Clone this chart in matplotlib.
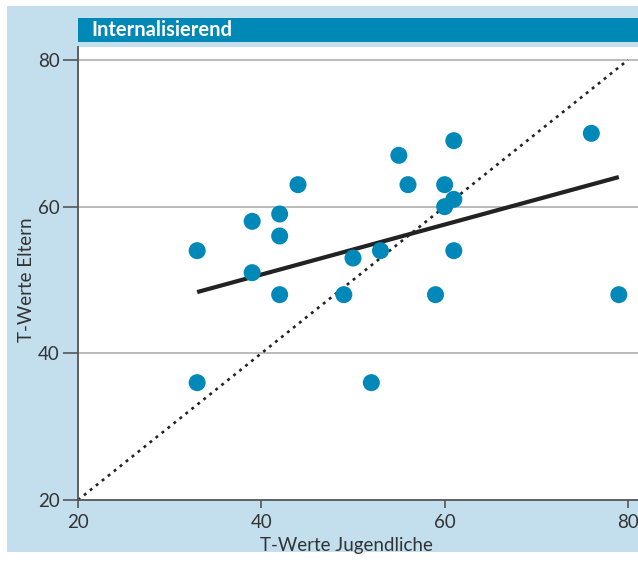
import numpy as np
import matplotlib
matplotlib.use("Agg")
import matplotlib.pyplot as plt
from matplotlib.patches import Rectangle

plt.rcParams['font.family'] = ['Lato', 'DejaVu Sans']

# Data (T-Werte Jugendliche vs. T-Werte Eltern)
jugendliche = [33, 33, 39, 39, 42, 42, 42, 44, 49, 50, 53, 52, 55, 56, 59, 60, 60, 61, 61, 61, 76, 79]
eltern =      [54, 36, 58, 51, 59, 56, 48, 63, 48, 53, 54, 36, 67, 63, 48, 63, 60, 61, 69, 54, 70, 48]
# regression line as drawn in the reference (intercept, slope)
fit_intercept = 37.1
fit_slope = 0.341
title = "Internalisierend"
xlabel = "T-Werte Jugendliche"
ylabel = "T-Werte Eltern"
ticks = [20, 40, 60, 80]

BG = "#c3dfee"
HEAD = "#0088b6"
DOT = "#0088b8"
TXT = "#333333"

W, H = 638, 562
fig = plt.figure(figsize=(W / 100, H / 100), dpi=100)
fig.patch.set_facecolor("white")

# light-blue panel
fig.add_artist(Rectangle((7 / W, 1 - 552 / H), 631 / W, 546 / H,
                         transform=fig.transFigure, facecolor=BG, edgecolor="none", zorder=0))
# header bar
fig.add_artist(Rectangle((78 / W, 1 - 41.5 / H), 560 / W, 23.5 / H,
                         transform=fig.transFigure, facecolor=HEAD, edgecolor="none", zorder=1))
fig.text(91 / W, 1 - 29.5 / H, title, color="white", fontsize=14.5, fontweight="bold",
         ha="left", va="center", zorder=2)

ax = fig.add_axes([78 / W, 1 - 500 / H, 560 / W, 453 / H])
ax.set_facecolor("white")
ax.set_xlim(20, 20 + 560 / (550 / 60))
ax.set_ylim(20, 20 + 453 / (440 / 60))

for s in ["top", "right"]:
    ax.spines[s].set_visible(False)
for s in ["left", "bottom"]:
    ax.spines[s].set_color("#555555")
    ax.spines[s].set_linewidth(1.3)

ax.set_xticks(ticks)
ax.set_yticks(ticks)
ax.tick_params(axis="x", length=6, width=1.2, color="#555555", labelsize=13.5, labelcolor=TXT, pad=4)
ax.tick_params(axis="y", length=11, width=1.2, color="#555555", labelsize=13.5, labelcolor=TXT, pad=2)

for t in ticks[1:]:
    ax.axhline(t, color="#b5b5b5", linewidth=1.3, zorder=1)

# identity line
ax.plot([ticks[0], ticks[-1]], [ticks[0], ticks[-1]], color="#222222", linewidth=1.9,
        linestyle=(0, (1.1, 1.8)), zorder=2, clip_on=False)

# regression line
xj = np.array(jugendliche, dtype=float)
ye = np.array(eltern, dtype=float)
xs = np.array([xj.min(), xj.max()])
ax.plot(xs, fit_intercept + fit_slope * xs, color="#222222", linewidth=3.0,
        solid_capstyle="butt", zorder=3)

ax.scatter(xj, ye, s=150, color=DOT, edgecolors="none", zorder=4)

ax.set_xlabel(xlabel, fontsize=13.5, color=TXT, labelpad=4)
ax.xaxis.set_label_coords((346 - 78) / 560, -(545 - 500) / 453)
ax.xaxis.label.set_va("center")
ax.set_ylabel(ylabel, fontsize=13.5, color=TXT)
ax.yaxis.set_label_coords(-(78 - 27) / 560, (500 - 280) / 453)
ax.yaxis.label.set_va("center")

fig.savefig("out.png", dpi=100, facecolor="white")
